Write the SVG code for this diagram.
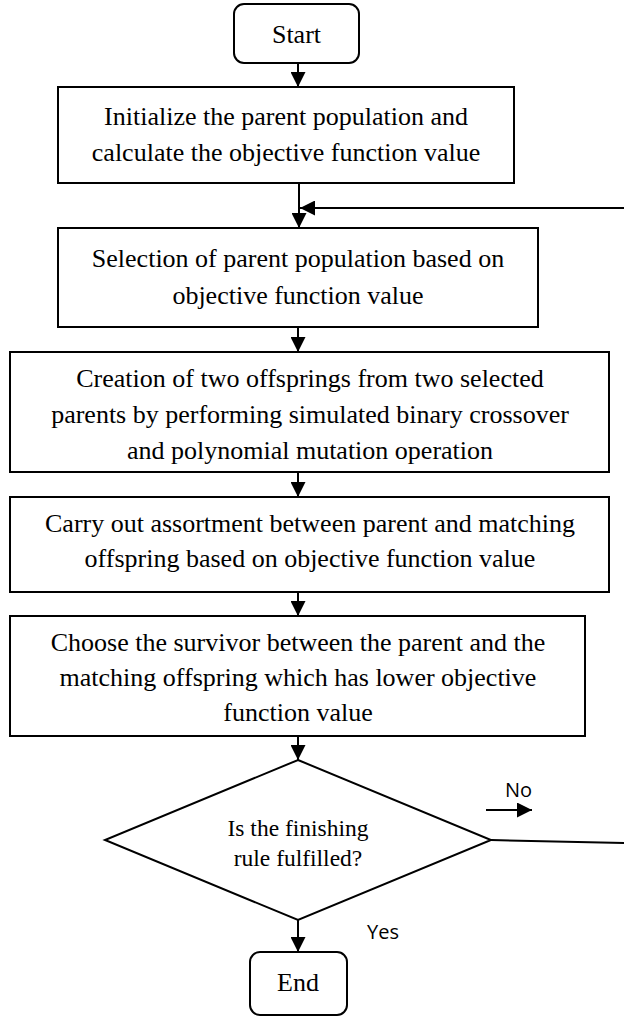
<svg xmlns="http://www.w3.org/2000/svg" width="624" height="1018" viewBox="0 0 624 1018">
<style>
.box{fill:#fff;stroke:#000;stroke-width:2}
.t{font-family:"Liberation Serif","Times New Roman",serif;font-size:26px;fill:#000;text-anchor:middle}
.ts{font-family:"Liberation Serif","Times New Roman",serif;font-size:23.5px;fill:#000;text-anchor:middle}
.lbl{font-family:"Open Sans","DejaVu Sans",sans-serif;font-size:20px;fill:#000}
.ln{fill:none;stroke:#000;stroke-width:2}
</style>
<defs>
<marker id="ahb" viewBox="0 0 10 10" refX="10" refY="5" markerWidth="15" markerHeight="15" orient="auto" markerUnits="userSpaceOnUse">
<path d="M0,0 L10,5 L0,10 z" fill="#000"/>
</marker>
</defs>
<g id="connectors">
<line class="ln" x1="298" y1="63" x2="298" y2="87" marker-end="url(#ahb)"/>
<line class="ln" x1="299" y1="183" x2="299" y2="228" marker-end="url(#ahb)"/>
<line class="ln" x1="624" y1="208" x2="300" y2="208" marker-end="url(#ahb)"/>
<line class="ln" x1="298" y1="327" x2="298" y2="352" marker-end="url(#ahb)"/>
<line class="ln" x1="298" y1="472" x2="298" y2="497" marker-end="url(#ahb)"/>
<line class="ln" x1="298" y1="592" x2="298" y2="616" marker-end="url(#ahb)"/>
<line class="ln" x1="298" y1="736" x2="298" y2="760" marker-end="url(#ahb)"/>
<line class="ln" x1="298" y1="920" x2="298" y2="952" marker-end="url(#ahb)"/>
<line class="ln" x1="491" y1="840" x2="624" y2="843"/>
<line class="ln" x1="486" y1="810" x2="532" y2="810" marker-end="url(#ahb)"/>
<text class="lbl" x="505" y="797">No</text>
<text class="lbl" x="367" y="939">Yes</text>
</g>
<g id="start">
<rect class="box" x="234" y="4" width="125" height="59" rx="10"/>
<text class="t" x="296.5" y="43">Start</text>
</g>
<g id="init">
<rect class="box" x="58" y="87" width="456" height="96"/>
<text class="t" x="286" y="125">Initialize the parent population and</text>
<text class="t" x="286" y="161">calculate the objective function value</text>
</g>
<g id="selection">
<rect class="box" x="58" y="228" width="480" height="99"/>
<text class="t" x="298" y="267">Selection of parent population based on</text>
<text class="t" x="298" y="304">objective function value</text>
</g>
<g id="creation">
<rect class="box" x="10" y="352" width="599" height="120"/>
<text class="t" x="310" y="387">Creation of two offsprings from two selected</text>
<text class="t" x="310" y="423">parents by performing simulated binary crossover</text>
<text class="t" x="310" y="459">and polynomial mutation operation</text>
</g>
<g id="assortment">
<rect class="box" x="10" y="497" width="599" height="95"/>
<text class="t" x="310" y="532">Carry out assortment between parent and matching</text>
<text class="t" x="310" y="567">offspring based on objective function value</text>
</g>
<g id="survivor">
<rect class="box" x="10" y="616" width="575" height="120"/>
<text class="t" x="298" y="651">Choose the survivor between the parent and the</text>
<text class="t" x="298" y="686">matching offspring which has lower objective</text>
<text class="t" x="298" y="721">function value</text>
</g>
<g id="decision">
<polygon class="box" points="298,760 491,840 298,920 105,840"/>
<text class="ts" x="298" y="836">Is the finishing</text>
<text class="ts" x="298" y="866">rule fulfilled?</text>
</g>
<g id="end">
<rect class="box" x="250" y="952" width="97" height="63" rx="10"/>
<text class="t" x="298" y="991">End</text>
</g>
</svg>
